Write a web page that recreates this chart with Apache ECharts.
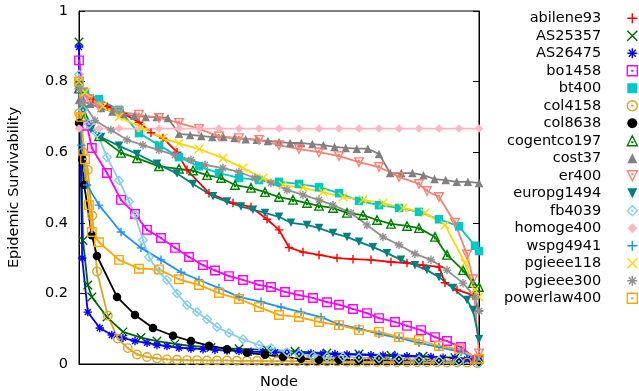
<!DOCTYPE html>
<html>
<head>
<meta charset="utf-8">
<script src="https://cdn.jsdelivr.net/npm/echarts@6/dist/echarts.min.js"></script>
<style>
  html, body { margin: 0; padding: 0; background: #fff; }
  #chart { width: 639px; height: 391px; }
</style>
</head>
<body>
<div id="chart"></div>
<script>
// x = node rank in percent of the network, y = epidemic survivability
const abilene93 = [[0,0.80],[1,0.77],[3.5,0.75],[7,0.73],[11,0.71],[15,0.685],[18,0.655],[21,0.64],[24.5,0.60],[27,0.55],[32.5,0.484],[38.5,0.456],[43,0.445],[47,0.41],[50,0.38],[52.5,0.33],[56,0.317],[60,0.309],[64.5,0.30],[68.5,0.297],[73,0.295],[78,0.289],[82,0.286],[86,0.28],[90,0.275],[91.5,0.23],[94.5,0.21],[98.5,0.195],[100,0.15]];
const AS25357 = [[0,0.912],[1,0.35],[2.2,0.224],[3.2,0.19],[7,0.133],[11,0.091],[15.5,0.075],[19.5,0.065],[24,0.057],[28,0.051],[33,0.047],[40,0.043],[47,0.04],[54,0.036],[62,0.031],[70,0.028],[78,0.025],[86,0.022],[94,0.018],[100,0.012]];
const AS26475 = [[0,0.898],[0.8,0.3],[2.2,0.147],[5.2,0.102],[8.2,0.082],[11,0.074],[14,0.065],[17,0.06],[19.5,0.054],[22,0.051],[25,0.046],[28,0.044],[31,0.042],[34,0.04],[37,0.038],[40,0.037],[43,0.035],[46,0.034],[49,0.033],[52,0.032],[55,0.031],[58,0.03],[61,0.029],[64,0.028],[67,0.027],[70,0.026],[73,0.025],[76,0.024],[79,0.023],[82,0.022],[85,0.021],[88,0.02],[91,0.018],[94,0.016],[97,0.013],[100,0.008]];
const bo1458 = [[0,0.86],[2,0.675],[3.2,0.612],[7,0.541],[10.5,0.465],[14,0.425],[17,0.38],[20.5,0.357],[24,0.329],[27.5,0.303],[31,0.28],[34,0.265],[37.5,0.249],[41,0.238],[45,0.224],[48,0.218],[51.5,0.204],[55,0.195],[58.5,0.187],[62,0.175],[65,0.168],[68.5,0.156],[72,0.144],[75,0.13],[79,0.119],[82,0.108],[85.5,0.096],[89,0.076],[92,0.065],[95.5,0.048],[99.5,0.011]];
const bt400 = [[0,0.79],[1.5,0.77],[5,0.75],[10,0.72],[15,0.654],[20,0.62],[25,0.586],[30,0.56],[35,0.541],[40,0.527],[45,0.521],[50,0.516],[55,0.51],[60,0.501],[65,0.484],[70,0.462],[75,0.45],[80,0.442],[85,0.431],[90,0.41],[95,0.39],[99,0.335],[100,0.32]];
const col4158 = [[0,0.71],[1,0.6],[2.2,0.55],[3.3,0.42],[4.5,0.262],[7.2,0.137],[9.7,0.072],[12.2,0.045],[14.5,0.027],[17,0.02],[19.5,0.016],[22,0.013],[24.5,0.012],[27,0.011],[29.5,0.011],[32,0.01],[34.5,0.01],[37,0.01],[39.5,0.009],[42,0.009],[44.5,0.009],[47,0.008],[49.5,0.008],[52,0.008],[54.5,0.008],[57,0.007],[59.5,0.007],[62,0.007],[64.5,0.007],[67,0.006],[69.5,0.006],[72,0.006],[74.5,0.006],[77,0.006],[79.5,0.005],[82,0.005],[84.5,0.005],[87,0.005],[89.5,0.005],[92,0.004],[94.5,0.004],[97,0.004],[99.5,0.003]];
const col8638 = [[0,0.683],[0.8,0.58],[1.3,0.507],[3.2,0.365],[4.5,0.306],[9.5,0.19],[14,0.139],[18.5,0.102],[23.5,0.08],[28,0.065],[32.5,0.052],[37,0.042],[42,0.032],[46.5,0.026],[51,0.02],[55.5,0.015],[60,0.012],[65,0.012],[70,0.011],[75,0.011],[80,0.01],[85,0.01],[90,0.009],[95,0.008],[100,0.005]];
const cogentco197 = [[0,0.78],[1.5,0.70],[5,0.645],[10.5,0.598],[14.5,0.583],[20,0.56],[25,0.553],[28.5,0.548],[32,0.535],[35.5,0.527],[39,0.507],[43,0.499],[46.5,0.487],[50,0.473],[53.5,0.465],[57,0.456],[60,0.448],[63.5,0.442],[67,0.428],[71,0.422],[74.5,0.408],[78,0.397],[82,0.391],[85,0.385],[89,0.36],[92,0.309],[96,0.266],[98.5,0.229],[100,0.218]];
const cost37 = [[0,0.748],[2.78,0.737],[5.56,0.725],[8.33,0.715],[11.11,0.708],[13.89,0.703],[16.67,0.70],[19.44,0.70],[22.22,0.697],[25,0.652],[27.78,0.649],[30.56,0.646],[33.33,0.643],[36.11,0.643],[38.89,0.64],[41.67,0.637],[44.44,0.635],[47.22,0.632],[50,0.629],[52.78,0.626],[55.56,0.626],[58.33,0.623],[61.11,0.62],[63.89,0.615],[66.67,0.612],[69.44,0.61],[72.22,0.61],[75,0.595],[77.78,0.541],[80.56,0.541],[83.33,0.541],[86.11,0.535],[88.89,0.524],[91.67,0.521],[94.44,0.516],[97.22,0.516],[100,0.513]];
const er400 = [[0,0.80],[1,0.77],[2.5,0.75],[5,0.73],[10,0.715],[15,0.706],[20,0.697],[25,0.683],[30,0.666],[35,0.645],[40,0.64],[45,0.635],[50,0.62],[55,0.609],[60,0.60],[65,0.589],[70,0.572],[75,0.558],[80,0.53],[85,0.51],[87,0.49],[90,0.473],[94,0.40],[97,0.31],[98.5,0.24],[100,0.03]];
const europg1494 = [[0,0.79],[1,0.72],[3,0.665],[5.5,0.643],[10,0.618],[14.5,0.595],[19.5,0.567],[24.5,0.54],[28.5,0.51],[33.5,0.475],[37,0.46],[40.5,0.446],[43.5,0.437],[46.5,0.428],[50,0.417],[53,0.40],[57,0.394],[60,0.385],[63.5,0.371],[67,0.36],[70,0.346],[73.5,0.331],[77,0.314],[80.5,0.295],[84,0.28],[87,0.266],[90,0.246],[93.5,0.215],[97,0.181],[98.5,0.153],[100,0.07]];
const fb4039 = [[0,0.82],[1,0.72],[2.5,0.68],[4.5,0.654],[7,0.586],[10,0.52],[12.5,0.46],[14,0.422],[16,0.351],[17.5,0.303],[19.5,0.266],[22,0.238],[24.5,0.20],[27,0.167],[29.5,0.147],[32,0.127],[34.5,0.105],[37.5,0.088],[41,0.07],[45,0.054],[48,0.045],[52,0.034],[55,0.028],[58.5,0.023],[62,0.02],[66,0.02],[70,0.018],[75,0.016],[80,0.014],[85,0.012],[90,0.01],[95,0.008],[100,0.002]];
const homoge400 = [[0,0.667],[5,0.667],[10,0.667],[15,0.667],[20,0.667],[25,0.667],[30,0.667],[35,0.667],[40,0.667],[45,0.667],[50,0.667],[55,0.667],[60,0.667],[65,0.667],[70,0.667],[75,0.667],[80,0.667],[85,0.667],[90,0.667],[95,0.667],[100,0.667]];
const wspg4941 = [[0,0.79],[0.6,0.62],[2,0.507],[5,0.45],[10.5,0.374],[15.5,0.329],[20.5,0.295],[25.5,0.26],[30,0.238],[35,0.215],[40,0.19],[45.5,0.176],[50.5,0.161],[55.5,0.147],[60.5,0.133],[65,0.112],[70,0.10],[75,0.085],[80,0.074],[85,0.06],[90,0.048],[95.5,0.034],[99.5,0.012]];
const pgieee118 = [[0,0.80],[1.5,0.77],[6,0.73],[10,0.70],[15.5,0.67],[21,0.64],[25,0.625],[30,0.609],[36,0.583],[41,0.555],[46,0.527],[51,0.507],[56,0.499],[61,0.487],[66,0.473],[71,0.465],[76,0.456],[81,0.442],[86.5,0.428],[91.5,0.394],[96.5,0.286],[99,0.21],[100,0.19]];
const pgieee300 = [[0,0.78],[1,0.74],[4,0.69],[8,0.663],[12,0.635],[16,0.62],[20,0.606],[24,0.592],[28,0.578],[31.5,0.564],[36,0.555],[40,0.544],[44,0.527],[48,0.513],[52,0.493],[56,0.479],[60,0.465],[63.5,0.45],[68,0.428],[72,0.394],[76,0.36],[80,0.337],[84,0.312],[88,0.295],[92,0.266],[96,0.229],[99,0.19],[100,0.15]];
const powerlaw400 = [[0,0.80],[0.5,0.70],[1.5,0.58],[2.5,0.45],[3.2,0.374],[5,0.345],[10,0.295],[15,0.27],[20,0.268],[25,0.24],[30,0.224],[35,0.201],[40,0.184],[45,0.161],[50,0.139],[55,0.133],[60,0.119],[65,0.11],[70,0.096],[75,0.091],[80,0.076],[85,0.068],[90,0.051],[95,0.042],[100,0.015]];

const yTicks = [0, 0.2, 0.4, 0.6, 0.8, 1];

// marker shapes: open ones are stroked only, solid ones are filled
const DOT = 'M4.6,4.6L5.4,4.6L5.4,5.4L4.6,5.4Z';
const OPEN = {
  plus: 'path://M5,0L5,10M0,5L10,5',
  cross: 'path://M0,0L10,10M10,0L0,10',
  star: 'path://M5,0L5,10M0,5L10,5M1.5,1.5L8.5,8.5M8.5,1.5L1.5,8.5',
  boxDot: 'path://M0,0L10,0L10,10L0,10Z' + DOT,
  circleDot: 'path://M0,5A5,5,0,1,0,10,5A5,5,0,1,0,0,5Z' + DOT,
  triDot: 'path://M5,0L10,10L0,10ZM4.6,6.1L5.4,6.1L5.4,6.9L4.6,6.9Z',
  downTriDot: 'path://M0,0L10,0L5,10ZM4.6,3.1L5.4,3.1L5.4,3.9L4.6,3.9Z',
  diamondDot: 'path://M5,0L10,5L5,10L0,5Z' + DOT,
};
const SOLID = {
  box: 'path://M0,0L10,0L10,10L0,10Z',
  circle: 'path://M0,5A5,5,0,1,0,10,5A5,5,0,1,0,0,5Z',
  tri: 'path://M5,0L10,10L0,10Z',
  downTri: 'path://M0,0L10,0L5,10Z',
  diamond: 'path://M5,0L10,5L5,10L0,5Z',
};

const curves = [
  ['abilene93', abilene93, '#ff0000', OPEN.plus],
  ['AS25357', AS25357, '#006400', OPEN.cross],
  ['AS26475', AS26475, '#0000ff', OPEN.star],
  ['bo1458', bo1458, '#ff00ff', OPEN.boxDot],
  ['bt400', bt400, '#00c8c8', SOLID.box],
  ['col4158', col4158, '#daa520', OPEN.circleDot],
  ['col8638', col8638, '#000000', SOLID.circle],
  ['cogentco197', cogentco197, '#008000', OPEN.triDot],
  ['cost37', cost37, '#808080', SOLID.tri],
  ['er400', er400, '#fa8072', OPEN.downTriDot],
  ['europg1494', europg1494, '#008080', SOLID.downTri],
  ['fb4039', fb4039, '#87ceeb', OPEN.diamondDot],
  ['homoge400', homoge400, '#ffb6c1', SOLID.diamond],
  ['wspg4941', wspg4941, '#1e90ff', OPEN.plus],
  ['pgieee118', pgieee118, '#ffd700', OPEN.cross],
  ['pgieee300', pgieee300, '#909090', OPEN.star],
  ['powerlaw400', powerlaw400, '#ffa500', OPEN.boxDot],
];

const isOpen = (symbol) => Object.values(OPEN).includes(symbol);
const markStyle = (color, symbol) =>
  isOpen(symbol)
    ? { color: 'rgba(0,0,0,0)', borderColor: color, borderWidth: 1.4 }
    : { color, borderWidth: 0 };

const font = { fontFamily: 'DejaVu Sans', fontSize: 14.5, color: '#000' };

const yAxisBase = {
  type: 'value',
  min: 0,
  max: 1,
  interval: 0.2,
  splitLine: { show: false },
  axisLine: { show: true, lineStyle: { color: '#000', width: 1 } },
  axisTick: { show: true, inside: true, length: 6, lineStyle: { color: '#000' } },
};

const chart = echarts.init(document.getElementById('chart'));
chart.setOption({
  animation: false,
  backgroundColor: '#fff',
  grid: {
    left: 79,
    right: 160,
    top: 11,
    bottom: 27,
    containLabel: false,
    outerBoundsMode: 'none',
    show: true,
    borderColor: '#000',
    borderWidth: 1,
  },
  legend: {
    orient: 'vertical',
    align: 'right',
    right: 1,
    top: 9.5,
    padding: 0,
    itemGap: 0,
    itemWidth: 10,
    itemHeight: 10,
    selectedMode: false,
    textStyle: { ...font, lineHeight: 17.5, padding: [0, 21, 0, 0] },
    data: curves.map(([name, , color, symbol]) => ({
      name,
      icon: symbol,
      itemStyle: markStyle(color, symbol),
    })),
  },
  xAxis: {
    type: 'value',
    min: 0,
    max: 100,
    name: 'Node',
    nameLocation: 'middle',
    nameGap: 11,
    nameTextStyle: font,
    axisLabel: { show: false },
    axisTick: { show: false },
    splitLine: { show: false },
    axisLine: { show: true, lineStyle: { color: '#000' } },
  },
  yAxis: [
    {
      ...yAxisBase,
      name: 'Epidemic Survivability',
      nameLocation: 'middle',
      nameGap: 57,
      nameTextStyle: font,
      axisLabel: {
        ...font,
        margin: 11,
        formatter: (v) => (yTicks.includes(Math.round(v * 10) / 10) ? String(Math.round(v * 10) / 10) : ''),
      },
    },
    {
      ...yAxisBase,
      position: 'right',
      axisLabel: { show: false },
    },
  ],
  series: curves.map(([name, data, color, symbol]) => ({
    name,
    type: 'line',
    data,
    symbol,
    symbolSize: 8.5,
    showAllSymbol: true,
    clip: false,
    lineStyle: { width: 1.8, color },
    itemStyle: markStyle(color, symbol),
    emphasis: { disabled: true },
  })),
});
</script>
</body>
</html>
